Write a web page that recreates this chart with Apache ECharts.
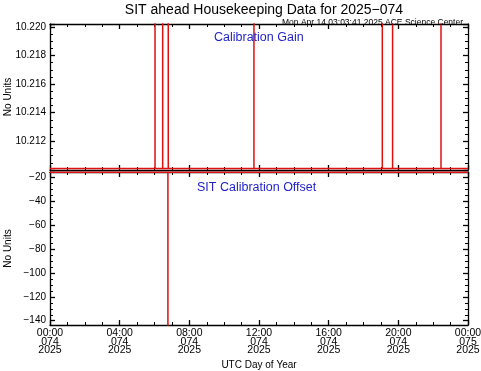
<!DOCTYPE html>
<html><head><meta charset="utf-8">
<script src="https://cdn.jsdelivr.net/npm/echarts@6/dist/echarts.min.js"></script>
<style>html,body{margin:0;padding:0;background:#fff}#c{width:481px;height:371px}</style>
</head><body><div id="c"></div>
<script>
// ---- data (hours of day 074, values) ----
const gainTimes  = [0, 6.03, 6.03, 6.03, 6.47, 6.47, 6.47, 6.79, 6.79, 6.79, 11.71, 11.71, 11.71, 19.08, 19.08, 19.08, 19.67, 19.67, 19.67, 22.45, 22.45, 22.45, 24];
const gainValues = [10.2101, 10.2101, 10.25, 10.2101, 10.2101, 10.25, 10.2101, 10.2101, 10.25, 10.2101, 10.2101, 10.25, 10.2101, 10.2101, 10.25, 10.2101, 10.2101, 10.25, 10.2101, 10.2101, 10.25, 10.2101, 10.2101];
const offsetTimes  = [0, 6.77, 6.77, 6.77, 24];
const offsetValues = [-15.5, -15.5, -160, -15.5, -15.5];
// ---- tick labels ----
const xTickLabels = ["00:00\n074\n2025", "04:00\n074\n2025", "08:00\n074\n2025", "12:00\n074\n2025", "16:00\n074\n2025", "20:00\n074\n2025", "00:00\n075\n2025"];
const gainTicks = [10.212, 10.214, 10.216, 10.218, 10.220];
const offsetMajorTicks = [-20, -40, -60, -80, -100, -120, -140];
const offsetMinorTicks = [-15, -25, -30, -35, -45, -50, -55, -65, -70, -75, -85, -90, -95, -105, -110, -115, -125, -130, -135];

const FONT = 'Liberation Sans';
const blue = '#2323c8';
const red = '#e01010';
const lineStyle = {color: '#000', width: 1.3};

function xAxisDef(grid, pos, labels, name) {
  return {
    type: 'value', gridIndex: grid, position: pos, min: 0, max: 24, interval: 4,
    axisLine: {show: true, onZero: false, lineStyle},
    axisTick: {show: true, inside: true, length: 5, lineStyle},
    minorTick: {show: true, splitNumber: 4, length: 3, lineStyle: {color: '#000', width: 1}},
    splitLine: {show: false},
    axisLabel: labels ? {
      show: true, fontFamily: FONT, fontSize: 10.5, color: '#000', lineHeight: 8.5, margin: 4,
      formatter: v => xTickLabels[Math.round(v / 4)]
    } : {show: false},
    name: name || '', nameLocation: 'middle', nameGap: 35, nameMoveOverlap: false,
    nameTextStyle: {fontFamily: FONT, fontSize: 10, color: '#000'}
  };
}

const gainY = (pos, labels) => ({
  type: 'value', gridIndex: 0, position: pos, min: 10.210, max: 10.2202, interval: 0.002,
  axisLine: {show: true, onZero: false, lineStyle},
  axisTick: {show: true, inside: true, length: 5, lineStyle},
  minorTick: {show: true, splitNumber: 4, length: 3, lineStyle: {color: '#000', width: 1}},
  splitLine: {show: false},
  axisLabel: labels ? {show: true, showMinLabel: false, showMaxLabel: false, fontFamily: FONT, fontSize: 10, color: '#000', margin: 4,
    formatter: v => gainTicks.some(t => Math.abs(t - v) < 1e-6) ? v.toFixed(3) : ''} : {show: false},
  name: labels ? 'No Units' : '', nameLocation: 'middle', nameGap: 37, nameMoveOverlap: false,
  nameTextStyle: {fontFamily: FONT, fontSize: 10, color: '#000'}
});

const offY = (pos, labels, minor) => ({
  type: 'value', gridIndex: 1, position: pos, min: -143.6, max: -15.2, offset: 0,
  axisLine: {show: !minor, onZero: false, lineStyle},
  axisTick: {show: true, inside: true, length: minor ? 3 : 5, customValues: minor ? offsetMinorTicks : offsetMajorTicks,
    lineStyle: minor ? {color: '#000', width: 1} : lineStyle},
  splitLine: {show: false},
  axisLabel: labels ? {show: true, customValues: offsetMajorTicks, fontFamily: FONT, fontSize: 10, color: '#000', margin: 4,
    formatter: v => String(v).replace('-', '\u2212')} : {show: false},
  name: labels ? 'No Units' : '', nameLocation: 'middle', nameGap: 37, nameMoveOverlap: false,
  nameTextStyle: {fontFamily: FONT, fontSize: 10, color: '#000'}
});

const option = {
  animation: false,
  backgroundColor: '#fff',
  title: [
    {text: 'SIT ahead Housekeeping Data for 2025\u2212074', left: 259, textAlign: 'center', top: -2,
      textStyle: {fontFamily: FONT, fontSize: 14, fontWeight: 'normal', color: '#000'}},
    {text: 'Mon Apr 14 03:03:41 2025 ACE Science Center', right: 13, top: 13,
      textStyle: {fontFamily: FONT, fontSize: 8.5, fontWeight: 'normal', color: '#000'}},
    {text: 'Calibration Gain', left: 209, top: 26,
      textStyle: {fontFamily: FONT, fontSize: 12.5, fontWeight: 'normal', color: blue}},
    {text: 'SIT Calibration Offset', left: 192, top: 176,
      textStyle: {fontFamily: FONT, fontSize: 12.5, fontWeight: 'normal', color: blue}}
  ],
  grid: [
    {left: 50, right: 13, top: 24, height: 146, containLabel: false, outerBoundsMode: 'none'},
    {left: 50, right: 13, top: 172, bottom: 46, containLabel: false, outerBoundsMode: 'none'}
  ],
  xAxis: [
    xAxisDef(0, 'bottom', false),
    xAxisDef(0, 'top', false),
    xAxisDef(1, 'bottom', true, 'UTC Day of Year'),
    xAxisDef(1, 'top', false)
  ],
  yAxis: [
    gainY('left', true),
    gainY('right', false),
    offY('left', true, false),
    offY('right', false, false),
    offY('left', false, true),
    offY('right', false, true)
  ],
  series: [
    {type: 'line', xAxisIndex: 0, yAxisIndex: 0, showSymbol: false, clip: true,
      lineStyle: {color: red, width: 1.5}, data: gainTimes.map((t, i) => [t, gainValues[i]])},
    {type: 'line', xAxisIndex: 2, yAxisIndex: 2, showSymbol: false, clip: true,
      lineStyle: {color: red, width: 1.5}, data: offsetTimes.map((t, i) => [t, offsetValues[i]])}
  ]
};
echarts.init(document.getElementById('c'), null, {renderer: 'canvas'}).setOption(option);
</script></body></html>
